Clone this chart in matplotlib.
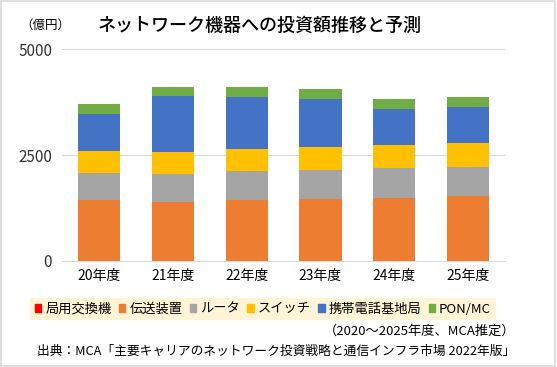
import numpy as np
import matplotlib.pyplot as plt
from matplotlib.patches import Patch, Rectangle

plt.rcParams['font.family'] = ['Noto Sans CJK JP', 'DejaVu Sans']

# データ（億円）
years = ['20年度', '21年度', '22年度', '23年度', '24年度', '25年度']
kyokuyo = [5, 5, 5, 5, 5, 5]                         # 局用交換機
densou = [1438, 1398, 1438, 1455, 1486, 1533]        # 伝送装置
router = [644, 661, 684, 691, 707, 676]              # ルータ
switch = [512, 511, 519, 542, 542, 573]              # スイッチ
keitai = [872, 1321, 1226, 1132, 849, 849]           # 携帯電話基地局
pon_mc = [236, 212, 236, 236, 236, 236]              # PON/MC

names = ['局用交換機', '伝送装置', 'ルータ', 'スイッチ', '携帯電話基地局', 'PON/MC']
colors = ['#FF0000', '#ED7D31', '#A5A5A5', '#FFC000', '#4472C4', '#70AD47']
series = [kyokuyo, densou, router, switch, keitai, pon_mc]

fig = plt.figure(figsize=(5.57, 3.67), dpi=100)
ax = fig.add_axes([0.111, 0.289, 0.796, 0.577])

x = np.arange(len(years))
bottom = np.zeros(len(years))
for vals, c in zip(series, colors):
    ax.bar(x, vals, width=0.57, bottom=bottom, color=c, zorder=3)
    bottom += np.array(vals)

ax.set_xlim(-0.5, len(years) - 0.5)
ax.set_ylim(0, 5000)
ax.set_yticks([0, 2500, 5000])
ax.set_xticks(x)
ax.set_xticklabels(years, fontsize=10)
ax.tick_params(axis='y', labelsize=11, length=0, pad=7, colors='#333333')
ax.tick_params(axis='x', length=0, pad=6)
ax.grid(axis='y', color='#D9D9D9', linewidth=0.8, zorder=0)
for s in ['top', 'right', 'left']:
    ax.spines[s].set_visible(False)
ax.spines['bottom'].set_color('#D9D9D9')

fig.text(0.467, 0.93, 'ネットワーク機器への投資額推移と予測', ha='center', va='center',
         fontsize=13, fontweight='medium')
fig.text(0.082, 0.93, '（億円）', ha='center', va='center', fontsize=9)

handles = [Patch(color=c) for c in colors]
leg = fig.legend(handles, names, loc='center', bbox_to_anchor=(0.472, 0.158), ncol=6,
                 fontsize=9.5, handlelength=0.5, handleheight=0.5, handletextpad=0.3,
                 columnspacing=0.55, frameon=True, fancybox=False, borderpad=0.35)
leg.get_frame().set_facecolor('#FFF2CC')
leg.get_frame().set_edgecolor('none')

fig.text(0.925, 0.097, '（2020～2025年度、MCA推定）', ha='right', va='center', fontsize=9.5)
fig.text(0.925, 0.043, '出典：MCA「主要キャリアのネットワーク投資戦略と通信インフラ市場 2022年版」',
         ha='right', va='center', fontsize=9.2)

fig.patches.append(Rectangle((0.002, 0.003), 0.995, 0.993, transform=fig.transFigure,
                             fill=False, edgecolor='#D9D9D9', linewidth=1.2))

fig.savefig('out.png', dpi=100)
